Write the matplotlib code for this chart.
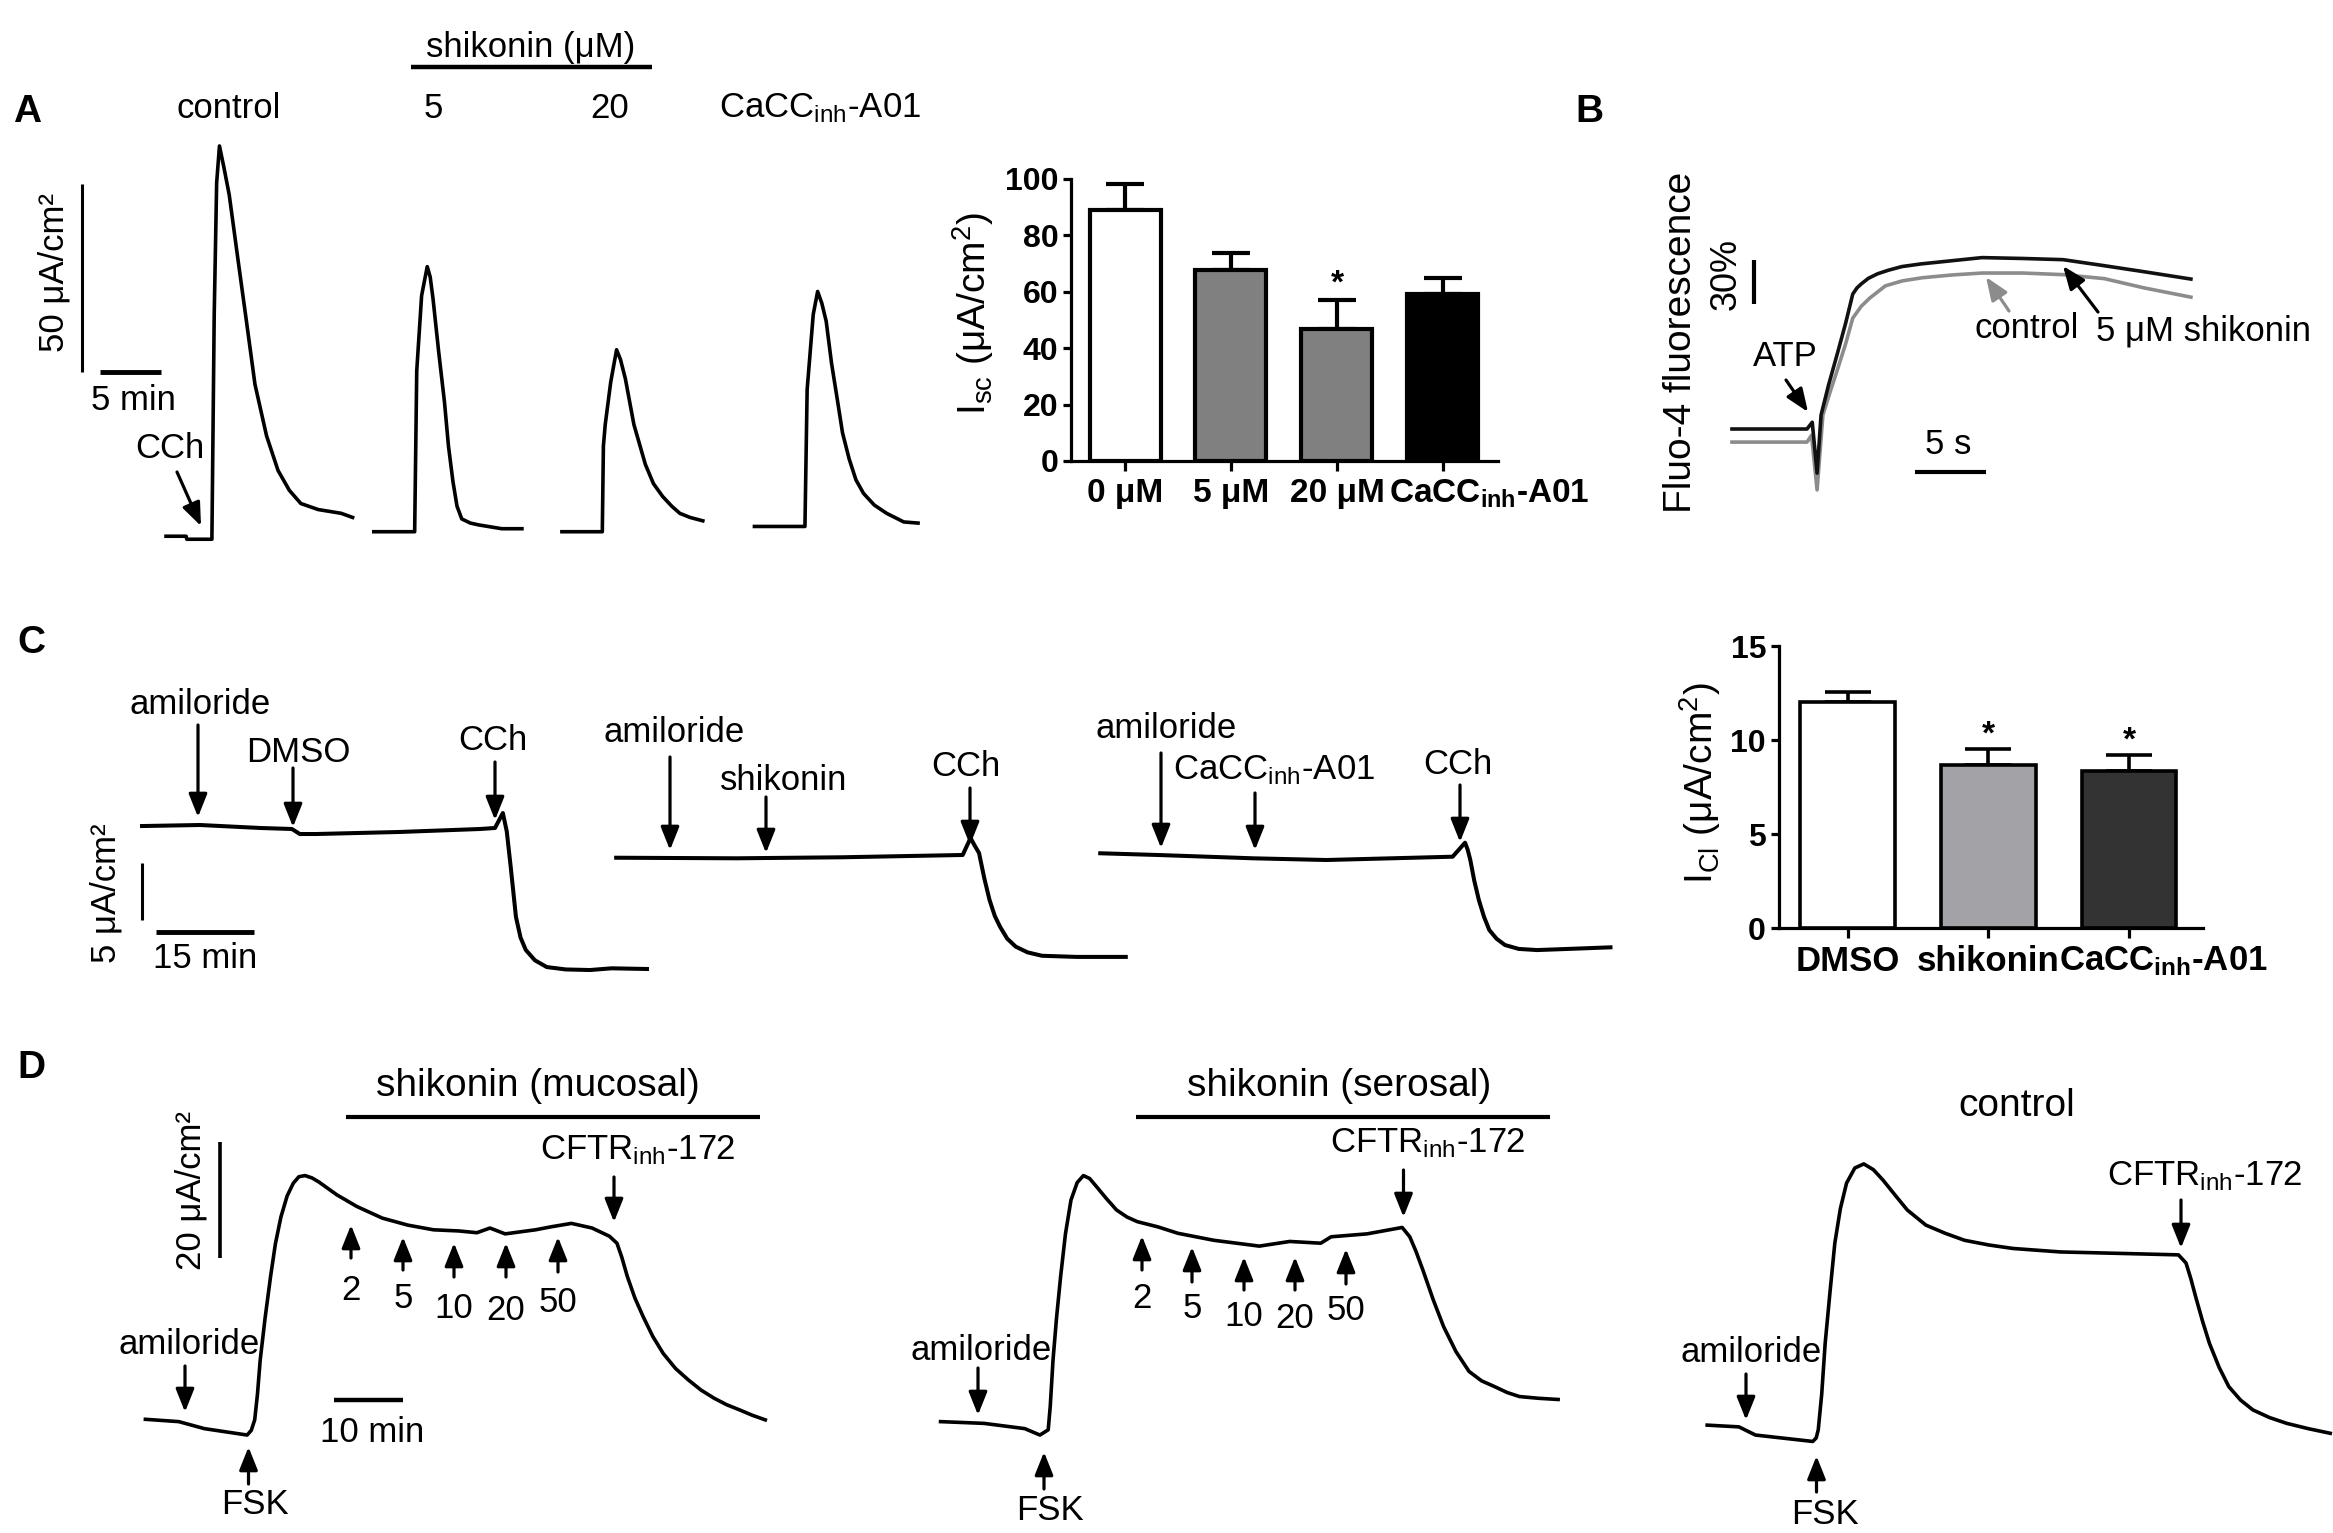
import numpy as np
import matplotlib
matplotlib.use('Agg')
import matplotlib.pyplot as plt

plt.rcParams['font.family'] = ['Liberation Sans', 'DejaVu Sans']
plt.rcParams['mathtext.fontset'] = 'custom'
plt.rcParams['mathtext.rm'] = 'Liberation Sans'
plt.rcParams['mathtext.it'] = 'Liberation Sans:italic'
plt.rcParams['mathtext.bf'] = 'Liberation Sans:bold'

W, H = 2333, 1533

# ---------------- data ----------------
# A: CCh-induced Isc traces (time min, Isc uA/cm2)
a_ctrl_t = [7.05, 8.7, 8.75, 10.81, 11.0, 11.2, 11.43, 11.8, 12.23, 12.93, 13.64, 14.34, 15.29, 16.23,
            17.16, 18.1, 19.52, 21.4, 22.34]
a_ctrl_i = [1.0, 1.0, 0.2, 0.2, 60.0, 95.0, 104.8, 99.0, 91.8, 75.0, 58.2, 41.4, 27.7, 18.5,
            13.2, 9.7, 8.1, 7.1, 6.0]
a_s5_t = [24.08, 27.43, 27.6, 28.0, 28.46, 28.7, 28.93, 29.4, 29.87, 30.2, 30.57, 30.9, 31.29, 32.0,
          32.7, 34.57, 36.22]
a_s5_i = [2.2, 2.2, 45.0, 65.0, 72.7, 70.0, 64.3, 50.0, 36.8, 25.0, 15.5, 9.0, 5.6, 4.5,
          4.0, 3.0, 3.0]
a_s20_t = [39.5, 42.81, 42.9, 43.05, 43.5, 43.98, 44.3, 44.7, 45.4, 46.34, 47.0, 47.75, 48.5, 49.16, 50.0, 51.05]
a_s20_i = [2.2, 2.2, 25.0, 30.7, 42.0, 50.6, 48.0, 42.9, 30.7, 20.1, 15.0, 11.6, 9.0, 7.1, 6.0, 5.1]
a_a01_t = [55.28, 59.42, 59.6, 59.75, 60.1, 60.46, 60.8, 61.16, 61.6, 62.1, 62.5, 63.04, 63.6, 64.22,
           65.1, 66.11, 67.52, 68.69]
a_a01_i = [3.6, 3.6, 40.0, 46.0, 60.0, 66.1, 63.0, 58.2, 47.0, 36.8, 28.5, 21.6, 16.0, 12.4,
           9.3, 7.1, 4.8, 4.5]

# A: summary bars
bar_a_labels = ['0 μM', '5 μM', '20 μM', r'CaCC$_{\mathbf{inh}}$-A01']
bar_a_mean = [88.8, 67.8, 46.7, 59.0]
bar_a_sem = [9.4, 5.9, 10.4, 5.9]
bar_a_colors = ['white', '#808080', '#808080', 'black']
bar_a_star = [False, False, True, False]

# B: Fluo-4 fluorescence (time s, dF %)
b_shk_t = [0, 5.28, 5.65, 5.99, 6.27, 6.8, 7.4, 8.0, 8.5, 8.8, 9.1, 9.6, 10.25, 11.0, 11.96, 13.3, 14.8,
           17.6, 20.5, 23.3, 26.2, 29.0, 32.3]
b_shk_f = [0, 0, 4.6, -30.0, 9.5, 30.0, 50.7, 72.0, 91.8, 96.0, 98.7, 102.5, 105.6, 108.0, 110.5, 112.3, 113.8,
           116.6, 116.0, 115.2, 111.1, 107.0, 102.0]
b_ctl_t = [0, 5.28, 5.6, 5.99, 6.4, 6.9, 7.4, 8.0, 8.5, 9.1, 9.7, 10.8, 12.0, 13.4, 15.5, 17.6,
           20.5, 23.3, 26.2, 29.0, 32.3]
b_ctl_f = [-8.9, -8.9, -4.3, -41.4, 9.5, 25.0, 39.7, 58.0, 75.4, 83.5, 89.1, 97.4, 100.8, 102.9, 104.8, 106.1,
           106.1, 105.0, 102.3, 96.0, 89.7]

# C: amiloride / inhibitor / CCh traces (time min, Isc uA/cm2)
c1_t = [0.31, 9.16, 18.3, 23.2, 24.4, 26.9, 39.7, 51.9, 54.2, 55.4, 56.0, 56.6, 57.4, 58.1, 58.9, 60.3,
        62.1, 65.0, 68.7, 72.0, 77.4]
c1_i = [2.98, 3.07, 2.81, 2.72, 2.28, 2.28, 2.46, 2.72, 2.81, 4.12, 2.5, -0.61, -5.0, -6.8, -7.89, -8.8,
        -9.39, -9.6, -9.65, -9.5, -9.56]
c2_t = [72.7, 91.1, 107.2, 125.6, 126.8, 127.4, 128.1, 128.9, 129.7, 130.5, 131.3, 132.4, 133.7, 135.5,
        137.7, 143.0, 150.5]
c2_i = [0.2, 0.15, 0.24, 0.44, 1.93, 1.3, 0.61, -1.6, -3.5, -4.9, -5.85, -6.9, -7.6, -8.1,
        -8.4, -8.5, -8.5]
c3_t = [146.6, 155.4, 169.9, 181.1, 200.4, 202.3, 202.7, 203.1, 203.7, 204.4, 205.2, 206.0, 207.1, 208.4,
        210.5, 213.3, 218.0, 224.5]
c3_i = [0.59, 0.44, 0.15, 0.0, 0.29, 1.52, 0.9, 0.0, -1.8, -3.5, -5.0, -6.14, -6.9, -7.46,
        -7.8, -7.9, -7.8, -7.66]

# C: summary bars
bar_c_labels = ['DMSO', 'shikonin', r'CaCC$_{\mathbf{inh}}$-A01']
bar_c_mean = [12.0, 8.66, 8.33]
bar_c_sem = [0.53, 0.86, 0.85]
bar_c_colors = ['white', '#a3a3a7', '#333333']
bar_c_star = [False, True, True]

# D: FSK-induced Isc traces (time min, Isc uA/cm2)
d1_t = [0.06, 4.9, 8.6, 14.8, 15.4, 15.9, 16.3, 16.7, 17.4, 18.2, 18.9, 19.7, 20.6, 21.5, 22.3, 23.2, 24.2,
        25.2, 26.5, 27.8, 30.7, 34.4, 38.1, 41.8, 45.5, 48.1, 50.0, 52.2, 56.6, 58.8, 61.8, 64.8, 67.3,
        68.4, 69.1, 69.9, 71.0, 72.2, 73.6, 75.1, 76.9, 78.8, 80.6, 82.5, 84.3, 86.2, 88.0, 89.9]
d1_i = [2.7, 2.3, 1.1, 0.0, 0.8, 2.6, 7.0, 12.9, 20.0, 27.2, 32.8, 37.4, 41.0, 43.2, 44.3, 44.5, 44.1,
        43.4, 42.3, 41.2, 39.2, 37.2, 36.0, 35.2, 35.0, 34.7, 35.5, 34.5, 35.2, 35.7, 36.3, 35.5, 34.1,
        32.9, 30.5, 27.2, 23.5, 20.3, 16.9, 14.0, 11.4, 9.4, 7.7, 6.3, 5.2, 4.3, 3.4, 2.6]
d2_t = [115.3, 121.6, 127.5, 129.7, 130.9, 131.2, 131.6, 132.1, 132.7, 133.4, 134.2, 135.1, 136.0, 136.9,
        137.9, 139.3, 140.8, 142.3, 143.8, 146.8, 149.7, 154.9, 161.5, 165.9, 170.4, 171.9, 177.1, 182.2,
        183.3, 184.2, 185.2, 186.7, 188.2, 190.0, 191.9, 193.7, 195.6, 197.4, 199.2, 202.0, 204.8]
d2_i = [2.3, 2.0, 1.1, 0.0, 0.9, 5.0, 12.9, 20.0, 27.2, 34.5, 40.3, 43.3, 44.5, 44.0,
        42.6, 40.6, 38.6, 37.4, 36.6, 35.7, 34.6, 33.4, 32.4, 33.2, 32.9, 34.0, 34.5, 35.6,
        34.0, 31.5, 28.3, 23.2, 18.6, 14.3, 10.9, 9.3, 8.3, 7.3, 6.6, 6.3, 6.1]
d3_t = [226.4, 231.0, 233.4, 241.7, 242.2, 242.5, 243.0, 243.5, 244.2, 244.9, 245.7, 246.6, 247.8, 249.1,
        250.5, 251.9, 253.6, 255.4, 258.1, 260.9, 263.7, 267.2, 270.7, 277.6, 284.6, 294.7, 295.8, 296.5,
        297.2, 298.2, 299.2, 300.6, 302.0, 303.7, 305.5, 307.9, 310.4, 313.5, 316.7]
d3_i = [1.7, 1.4, 0.0, -1.1, -0.5, 0.9, 7.0, 15.7, 24.5, 32.9, 38.8, 43.2, 45.8, 46.5,
        45.5, 43.7, 41.2, 38.6, 36.0, 34.6, 33.4, 32.6, 32.0, 31.4, 31.2, 30.9, 29.5, 26.8,
        23.7, 19.5, 15.7, 11.6, 8.3, 6.0, 4.3, 3.0, 2.0, 1.1, 0.3]
d_conc_labels = ['2', '5', '10', '20', '50']

# ---------------- figure ----------------
fig = plt.figure(figsize=(W / 100, H / 100), dpi=100)


def px_axes(x0, y0, x1, y1, xlim=None, ylim=None, off=True):
    ax = fig.add_axes([x0 / W, 1 - y1 / H, (x1 - x0) / W, (y1 - y0) / H])
    if xlim is not None:
        ax.set_xlim(*xlim)
        ax.set_ylim(*ylim)
    if off:
        ax.axis('off')
    return ax


# overlay in pixel coordinates for text and arrows
ov = fig.add_axes([0, 0, 1, 1], zorder=10)
ov.set_xlim(0, W)
ov.set_ylim(H, 0)
ov.axis('off')
ov.patch.set_alpha(0)


def txt(x, y, s, size=25, **kw):
    ov.text(x, y, s, fontsize=size, ha='center', va='center', **kw)


def arrow(x0, y0, x1, y1, color='black'):
    ov.annotate('', xy=(x1, y1), xytext=(x0, y0),
                arrowprops=dict(arrowstyle='-|>,head_length=0.7,head_width=0.28', color=color,
                                lw=2.3, mutation_scale=20, shrinkA=0, shrinkB=0))


def hline(x0, x1, y, lw=3):
    ov.plot([x0, x1], [y, y], color='black', lw=lw, solid_capstyle='butt')


# panel letters
for lab, (x, y) in {'A': (27, 112), 'B': (1589, 112), 'C': (31, 643), 'D': (31, 1068)}.items():
    txt(x, y, lab, size=28, fontweight='bold')

# ---- A traces ----
axA = px_axes(40, 60, 940, 560, xlim=(-3.28, 70.49), ylim=(-5.32, 127.66))
for t, i in [(a_ctrl_t, a_ctrl_i), (a_s5_t, a_s5_i), (a_s20_t, a_s20_i), (a_a01_t, a_a01_i)]:
    axA.plot(t, i, color='black', lw=2.6, solid_joinstyle='round')
axA.plot([0.16, 0.16], [44.7, 94.7], color='black', lw=2.2, solid_capstyle='butt')   # 50 uA/cm2
axA.plot([1.64, 6.64], [44.7, 44.7], color='black', lw=3.5, solid_capstyle='butt')   # 5 min
txt(54, 272, '50 μA/cm²', rotation=90)
txt(133, 400, '5 min')
txt(170, 448, 'CCh')
arrow(177, 472, 201, 526)
txt(229, 108, 'control')
txt(433, 108, '5')
txt(610, 108, '20')
txt(820, 108, r'CaCC$_{\mathrm{inh}}$-A01')
txt(531, 47, 'shikonin (μM)')
hline(411, 652, 67, lw=3.2)


# ---- bar charts ----
def bar_panel(box, xlim, ylim, yticks, labels, means, sems, colors, stars, edge_lw, capsize, star_gap,
              xfont, last_shift):
    ax = px_axes(*box, off=False)
    x = np.arange(len(means))
    ax.bar(x, means, width=0.67, color=colors, edgecolor='black', linewidth=edge_lw, zorder=3)
    ax.errorbar(x, means, yerr=[np.zeros(len(sems)), sems], fmt='none', ecolor='black',
                elinewidth=edge_lw, capsize=capsize, capthick=edge_lw, zorder=2)
    for xi, m, s, st in zip(x, means, sems, stars):
        if st:
            ax.text(xi, m + s + star_gap, '*', ha='center', va='center', fontsize=24, fontweight='bold')
    ax.set_xlim(*xlim)
    ax.set_ylim(*ylim)
    ax.set_yticks(yticks)
    ax.set_xticks(x)
    # the long last label sits to the right of its tick, as in the original
    ax.set_xticklabels(labels[:-1] + [''], fontsize=xfont, fontweight='bold')
    ax.annotate(labels[-1], xy=(x[-1], 0), xycoords=('data', 'axes fraction'),
                xytext=(last_shift * 0.72, -12), textcoords='offset points',
                ha='center', va='top', fontsize=xfont, fontweight='bold')
    for lab in ax.get_yticklabels():
        lab.set_fontsize(23)
        lab.set_fontweight('bold')
    for side in ['top', 'right']:
        ax.spines[side].set_visible(False)
    for side in ['left', 'bottom']:
        ax.spines[side].set_linewidth(2.3)
    ax.tick_params(axis='y', length=6, width=2.3, pad=3)
    ax.tick_params(axis='x', length=7, width=2.3, pad=5)
    ax.patch.set_alpha(0)
    return ax


bar_panel((1071, 178.6, 1498, 461), (-0.51, 3.52), (0, 100), [0, 20, 40, 60, 80, 100],
          bar_a_labels, bar_a_mean, bar_a_sem, bar_a_colors, bar_a_star, 3.0, 13.5, 5.5, 24, 46)
txt(973, 313, r'I$_{\mathrm{sc}}$ (μA/cm$^{\mathrm{2}}$)', size=28, rotation=90)

bar_panel((1778.5, 646, 2202.5, 928), (-0.49, 2.52), (0, 15), [0, 5, 10, 15],
          bar_c_labels, bar_c_mean, bar_c_sem, bar_c_colors, bar_c_star, 2.6, 16.5, 0.75, 25, 34)
txt(1700, 783, r'I$_{\mathrm{Cl}}$ (μA/cm$^{\mathrm{2}}$)', size=28, rotation=90)

# ---- B fluorescence ----
axB = px_axes(1700, 150, 2333, 520, xlim=(-2.25, 42.3), ylim=(-61.9, 189.8))
axB.plot(b_ctl_t, b_ctl_f, color='#8c8c8c', lw=2.6, solid_joinstyle='round')
axB.plot(b_shk_t, b_shk_f, color='#111111', lw=2.6, solid_joinstyle='round')
axB.plot([1.55, 1.55], [85, 115], color='black', lw=3.0, solid_capstyle='butt')      # 30 %
axB.plot([12.9, 17.9], [-29.3, -29.3], color='black', lw=3.0, solid_capstyle='butt')  # 5 s
txt(1681, 342, 'Fluo-4 fluorescence', size=28, rotation=90)
txt(1726, 274, '30%', size=26, rotation=90)
txt(1785, 357, 'ATP')
arrow(1786, 380, 1808, 412)
txt(1948, 445, '5 s')
txt(2027, 328, 'control')
arrow(2009, 311, 1986, 277, color='#8c8c8c')
txt(2203, 331, '5 μM shikonin')
arrow(2098, 312, 2063, 266)

# ---- C traces ----
axC = px_axes(90, 680, 1660, 1000, xlim=(-7.63, 232.06), ylim=(-12.28, 15.79))
for t, i in [(c1_t, c1_i), (c2_t, c2_i), (c3_t, c3_i)]:
    axC.plot(t, i, color='black', lw=2.9, solid_joinstyle='round')
axC.plot([0.31, 0.31], [-5.26, -0.26], color='black', lw=2.2, solid_capstyle='butt')   # 5 uA/cm2
axC.plot([2.41, 17.41], [-6.32, -6.32], color='black', lw=3.5, solid_capstyle='butt')  # 15 min
txt(106, 893, '5 μA/cm²', rotation=90)
txt(205, 958, '15 min')
c_labels = [('amiloride', 200, 705, 198, 725, 817), ('DMSO', 298, 752, 293, 768, 827),
            ('CCh', 493, 740, 495, 762, 820), ('amiloride', 674, 732, 670, 757, 850),
            ('shikonin', 784, 780, 766, 797, 853), ('CCh', 966, 767, 970, 788, 845),
            ('amiloride', 1166, 728, 1161, 753, 848), (r'CaCC$_{\mathrm{inh}}$-A01', 1274, 770, 1255, 793, 850),
            ('CCh', 1458, 765, 1460, 785, 842)]
for s, tx, ty, ax_x, y0, y1 in c_labels:
    txt(tx, ty, s)
    arrow(ax_x, y0, ax_x, y1)

# ---- D traces ----
axD = px_axes(100, 1100, 2333, 1533, xlim=(-6.52, 317.1), ylim=(-16.8, 57.46))
for t, i in [(d1_t, d1_i), (d2_t, d2_i), (d3_t, d3_i)]:
    axD.plot(t, i, color='black', lw=2.6, solid_joinstyle='round')
axD.plot([10.93, 10.93], [30.3, 50.3], color='black', lw=2.6, solid_capstyle='butt')  # 20 uA/cm2
axD.plot([27.4, 37.4], [6.0, 6.0], color='black', lw=3.2, solid_capstyle='butt')      # 10 min
txt(191, 1190, '20 μA/cm²', rotation=90)
txt(372, 1432, '10 min')

# mucosal
txt(538, 1086, 'shikonin (mucosal)', size=28)
hline(346, 760, 1117)
txt(638, 1150, r'CFTR$_{\mathrm{inh}}$-172')
arrow(614, 1177, 614, 1222)
txt(189, 1345, 'amiloride')
arrow(185, 1366, 185, 1412)
txt(255, 1505, 'FSK')
arrow(248.5, 1484, 248.5, 1447)
for s, x, tip, tail, ly in zip(d_conc_labels, [351, 403, 454, 506, 558], [1225, 1237, 1243, 1243, 1237],
                                [1258, 1270, 1277, 1277, 1272], [1290, 1298, 1308, 1310, 1302]):
    arrow(x, tail, x, tip)
    txt(x, ly, s)

# serosal
txt(1339, 1086, 'shikonin (serosal)', size=28)
hline(1136, 1550, 1117)
txt(1428, 1143, r'CFTR$_{\mathrm{inh}}$-172')
arrow(1403.5, 1170, 1403.5, 1217)
txt(981, 1350, 'amiloride')
arrow(978, 1368, 978, 1415)
txt(1050, 1511, 'FSK')
arrow(1044, 1489, 1044, 1452)
for s, x, tip, tail, ly in zip(d_conc_labels, [1142, 1192, 1244, 1295, 1346], [1236, 1247, 1257, 1257, 1249],
                                [1270, 1282, 1290, 1290, 1284], [1298, 1308, 1317, 1318, 1310]):
    arrow(x, tail, x, tip)
    txt(x, ly, s)

# control
txt(2017, 1106, 'control', size=28)
txt(2205, 1176, r'CFTR$_{\mathrm{inh}}$-172')
arrow(2181, 1200, 2181, 1248)
txt(1751, 1353, 'amiloride')
arrow(1746, 1374, 1746, 1420)
txt(1825, 1514, 'FSK')
arrow(1816.5, 1492, 1816.5, 1456)

fig.savefig('out.png', dpi=100)
